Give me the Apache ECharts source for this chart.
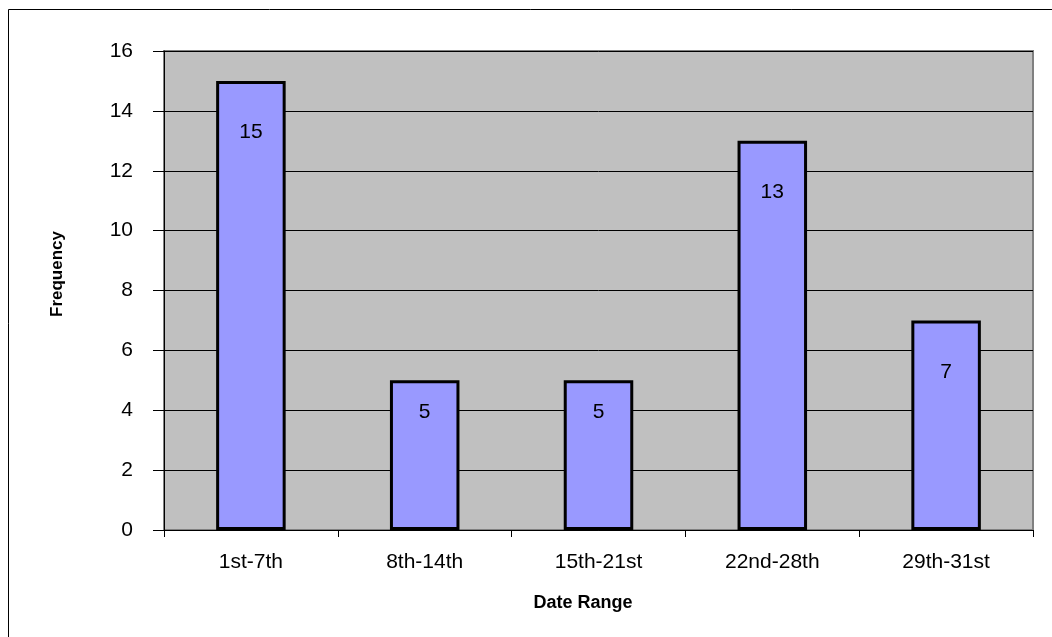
<!DOCTYPE html>
<html>
<head>
<meta charset="utf-8">
<script src="https://cdn.jsdelivr.net/npm/echarts@6/dist/echarts.min.js"></script>
<style>
html,body{margin:0;padding:0;background:#fff;}
#chart{width:1052px;height:637px;}
</style>
</head>
<body>
<div id="chart"></div>
<script>
const categories = ['1st-7th', '8th-14th', '15th-21st', '22nd-28th', '29th-31st'];
const frequency = [15, 5, 5, 13, 7];
const yTicks = [0, 2, 4, 6, 8, 10, 12, 14, 16];
const xTitle = 'Date Range';
const yTitle = 'Frequency';

const FONT = '"Liberation Sans", Arial, sans-serif';
const chart = echarts.init(document.getElementById('chart'), null, {renderer: 'canvas'});

const barData = frequency.map(v => ({
  value: v,
  label: { distance: v <= 5 ? 21 : 41 }
}));

chart.setOption({
  animation: false,
  backgroundColor: '#ffffff',
  grid: {
    left: 164, right: 19, top: 51, bottom: 107,
    show: true, backgroundColor: '#C0C0C0', borderColor: '#808080', borderWidth: 2
  },
  xAxis: {
    type: 'category',
    data: categories,
    axisLine: { show: true, lineStyle: { color: '#000', width: 1 } },
    axisTick: { show: true, alignWithLabel: false, length: 7, lineStyle: { color: '#000' } },
    axisLabel: { color: '#000', fontFamily: FONT, fontSize: 21, margin: 22 },
    splitLine: { show: false }
  },
  yAxis: {
    type: 'value',
    min: yTicks[0], max: yTicks[yTicks.length - 1], interval: yTicks[1] - yTicks[0],
    axisLine: { show: true, lineStyle: { color: '#000', width: 1 } },
    axisTick: { show: true, length: 11, lineStyle: { color: '#000' } },
    axisLabel: { color: '#000', fontFamily: FONT, fontSize: 21, margin: 31 },
    splitLine: { show: true, lineStyle: { color: '#000', width: 1 } }
  },
  series: [{
    type: 'bar',
    data: barData,
    barWidth: '40%',
    itemStyle: { color: '#9999FF', borderColor: '#000', borderWidth: 3 },
    label: {
      show: true, position: 'insideTop', color: '#000',
      fontFamily: FONT, fontSize: 21
    }
  }],
  graphic: [
    {
      type: 'rect', silent: true, z: -1,
      shape: { x: 8.5, y: 9.5, width: 1100, height: 700 },
      style: { fill: 'none', stroke: '#000', lineWidth: 1 }
    },
    {
      type: 'text', x: 57, y: 274, rotation: Math.PI / 2,
      style: { text: yTitle, font: 'bold 17px ' + FONT, fill: '#000', align: 'center', verticalAlign: 'middle' }
    },
    {
      type: 'text', x: 583, y: 603,
      style: { text: xTitle, font: 'bold 18px ' + FONT, fill: '#000', align: 'center', verticalAlign: 'middle' }
    }
  ]
});
</script>
</body>
</html>
